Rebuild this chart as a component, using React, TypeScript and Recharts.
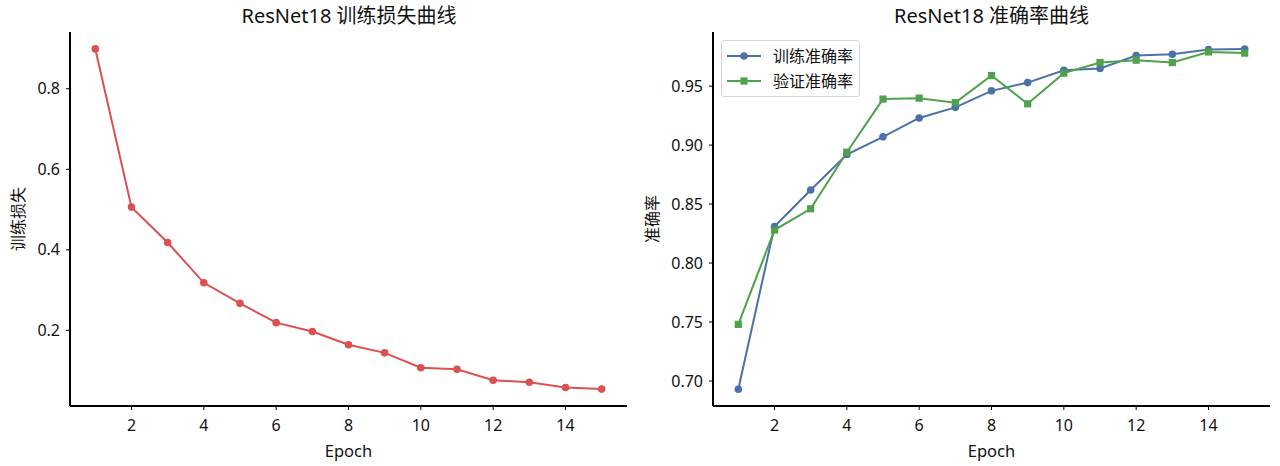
import { LineChart, Line, XAxis, YAxis, Label, Legend } from 'recharts';

const epochs = [1, 2, 3, 4, 5, 6, 7, 8, 9, 10, 11, 12, 13, 14, 15];
const trainLoss = [0.899, 0.506, 0.418, 0.318, 0.267, 0.219, 0.197, 0.164, 0.144, 0.107, 0.103, 0.076, 0.071, 0.058, 0.054];
const trainAcc = [0.693, 0.831, 0.862, 0.892, 0.907, 0.923, 0.932, 0.946, 0.953, 0.9635, 0.965, 0.976, 0.977, 0.981, 0.9815];
const valAcc = [0.748, 0.828, 0.846, 0.894, 0.939, 0.9398, 0.936, 0.959, 0.935, 0.961, 0.970, 0.972, 0.970, 0.979, 0.978];

const epochTicks = [2, 4, 6, 8, 10, 12, 14];
const lossTicks = [0.2, 0.4, 0.6, 0.8];
const accTicks = [0.7, 0.75, 0.8, 0.85, 0.9, 0.95];

const lossData = epochs.map((e, i) => ({ epoch: e, loss: trainLoss[i] }));
const accData = epochs.map((e, i) => ({ epoch: e, train: trainAcc[i], val: valAcc[i] }));

const FONT = '"Noto Sans", "Noto Sans CJK SC", sans-serif';
const RED = '#db5151';
const BLUE = '#4a72a8';
const GREEN = '#4ea24b';
const tick = { fill: '#111', fontSize: 16, fontFamily: FONT };

const yLabel = (text: string, dx: number) => (props: any) => {
  const vb = props.viewBox;
  const x = vb.x + dx;
  const y = vb.y + vb.height / 2;
  return (
    <text
      x={x}
      y={y}
      transform={`rotate(-90, ${x}, ${y})`}
      textAnchor="middle"
      dominantBaseline="central"
      fontSize={16}
      fontFamily={FONT}
      fill="#111"
    >
      {text}
    </text>
  );
};

const xLabel = (props: any) => {
  const vb = props.viewBox;
  return (
    <text
      x={vb.x + vb.width / 2}
      y={vb.y + 44}
      textAnchor="middle"
      dominantBaseline="central"
      fontSize={16.5}
      fontFamily={FONT}
      fill="#111"
    >
      Epoch
    </text>
  );
};

const Square = (props: any) => {
  const { cx, cy } = props;
  if (cx == null || cy == null) return null;
  return <rect x={cx - 3.6} y={cy - 3.6} width={7.2} height={7.2} fill={GREEN} />;
};

const LegendBox = () => (
  <div
    style={{
      border: '1px solid #d6d6d6',
      borderRadius: 3,
      background: 'rgba(255,255,255,0.85)',
      padding: '3px 6px 3px 5px',
      fontFamily: FONT,
      fontSize: 16,
      color: '#111',
      lineHeight: '24.5px',
    }}
  >
    {[
      { name: '训练准确率', color: BLUE, square: false },
      { name: '验证准确率', color: GREEN, square: true },
    ].map((it) => (
      <div key={it.name} style={{ display: 'flex', alignItems: 'center' }}>
        <svg width={34} height={12} style={{ marginRight: 12 }}>
          <line x1={0} y1={6} x2={34} y2={6} stroke={it.color} strokeWidth={2} />
          {it.square ? (
            <rect x={13.4} y={2.4} width={7.2} height={7.2} fill={it.color} />
          ) : (
            <circle cx={17} cy={6} r={3.8} fill={it.color} />
          )}
        </svg>
        <span>{it.name}</span>
      </div>
    ))}
  </div>
);

const titleStyle = (center: number): React.CSSProperties => ({
  position: 'absolute',
  top: 0,
  left: center - 200,
  width: 400,
  textAlign: 'center',
  fontFamily: FONT,
  fontSize: 20,
  color: '#111',
});

export default function App() {
  return (
    <div style={{ position: 'absolute', left: 0, top: 0, width: 1280, height: 466, background: '#fff' }}>
      <div style={titleStyle(349)}>ResNet18 训练损失曲线</div>
      <div style={titleStyle(991.5)}>ResNet18 准确率曲线</div>

      <div style={{ position: 'absolute', left: 0, top: 0 }}>
        <LineChart width={640} height={466} data={lossData} margin={{ top: 32, right: 13, bottom: 0, left: 0 }}>
          <XAxis
            dataKey="epoch"
            type="number"
            domain={[0.3, 15.7]}
            allowDataOverflow
            ticks={epochTicks}
            height={60}
            tick={tick}
            tickSize={4}
            tickMargin={10}
            stroke="#000"
            strokeWidth={2}
            tickLine={{ stroke: '#000', strokeWidth: 1 }}
          >
            <Label content={xLabel} />
          </XAxis>
          <YAxis
            type="number"
            domain={[0.012, 0.941]}
            allowDataOverflow
            ticks={lossTicks}
            tickFormatter={(v: number) => v.toFixed(1)}
            width={70}
            tick={tick}
            tickSize={4}
            tickMargin={6}
            stroke="#000"
            strokeWidth={2}
            tickLine={{ stroke: '#000', strokeWidth: 1 }}
          >
            <Label content={yLabel('训练损失', 18)} />
          </YAxis>
          <Line
            dataKey="loss"
            stroke={RED}
            strokeWidth={2}
            dot={{ r: 3.8, fill: RED, stroke: RED, strokeWidth: 0 }}
            activeDot={false}
            isAnimationActive={false}
          />
        </LineChart>
      </div>

      <div style={{ position: 'absolute', left: 640, top: 0 }}>
        <LineChart width={640} height={466} data={accData} margin={{ top: 32, right: 10, bottom: 0, left: 0 }}>
          <XAxis
            dataKey="epoch"
            type="number"
            domain={[0.3, 15.7]}
            allowDataOverflow
            ticks={epochTicks}
            height={60}
            tick={tick}
            tickSize={4}
            tickMargin={10}
            stroke="#000"
            strokeWidth={2}
            tickLine={{ stroke: '#000', strokeWidth: 1 }}
          >
            <Label content={xLabel} />
          </XAxis>
          <YAxis
            type="number"
            domain={[0.6788, 0.9959]}
            allowDataOverflow
            ticks={accTicks}
            tickFormatter={(v: number) => v.toFixed(2)}
            width={73}
            tick={tick}
            tickSize={4}
            tickMargin={6}
            stroke="#000"
            strokeWidth={2}
            tickLine={{ stroke: '#000', strokeWidth: 1 }}
          >
            <Label content={yLabel('准确率', 12)} />
          </YAxis>
          <Legend
            layout="vertical"
            align="center"
            verticalAlign="middle"
            wrapperStyle={{ top: 40, left: 81, width: 'auto' }}
            content={LegendBox}
          />
          <Line
            dataKey="train"
            name="训练准确率"
            stroke={BLUE}
            strokeWidth={2}
            dot={{ r: 3.8, fill: BLUE, stroke: BLUE, strokeWidth: 0 }}
            activeDot={false}
            isAnimationActive={false}
          />
          <Line
            dataKey="val"
            name="验证准确率"
            stroke={GREEN}
            strokeWidth={2}
            dot={<Square />}
            activeDot={false}
            isAnimationActive={false}
          />
        </LineChart>
      </div>
    </div>
  );
}
